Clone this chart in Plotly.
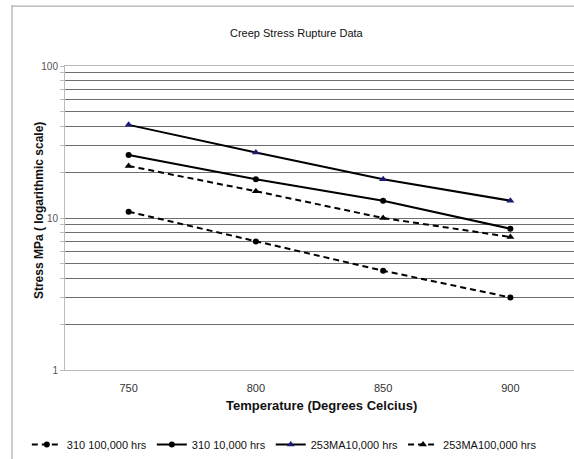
import plotly.graph_objects as go

temperatures = [750, 800, 850, 900]
s310_100k = [11, 7, 4.5, 3]
s310_10k = [26, 18, 13, 8.5]
s253_10k = [41, 27, 18, 13]
s253_100k = [22, 15, 10, 7.5]

y_tickvals = [1, 2, 3, 4, 5, 6, 7, 8, 9, 10, 20, 30, 40, 50, 60, 70, 80, 90, 100]
y_ticktext = ["1", "", "", "", "", "", "", "", "", "10", "", "", "", "", "", "", "", "", "100"]
x_ticks = ["750", "800", "850", "900"]

FONT = "Liberation Sans Narrow, Arial Narrow, Liberation Sans, Arial, sans-serif"
BOLD = "Liberation Sans, Arial, sans-serif"

fig = go.Figure()
fig.add_trace(go.Scatter(x=temperatures, y=s310_100k, name="310 100,000 hrs", mode="lines+markers",
                         line=dict(color="black", width=2, dash="6px,4px"),
                         marker=dict(symbol="circle", size=6, color="black")))
fig.add_trace(go.Scatter(x=temperatures, y=s310_10k, name="310 10,000 hrs", mode="lines+markers",
                         line=dict(color="black", width=2),
                         marker=dict(symbol="circle", size=6, color="black")))
fig.add_trace(go.Scatter(x=temperatures, y=s253_10k, name="253MA10,000 hrs", mode="lines+markers",
                         line=dict(color="black", width=2),
                         marker=dict(symbol="triangle-up", size=7, color="#1c1c78")))
fig.add_trace(go.Scatter(x=temperatures, y=s253_100k, name="253MA100,000 hrs", mode="lines+markers",
                         line=dict(color="black", width=2, dash="6px,4px"),
                         marker=dict(symbol="triangle-up", size=7, color="black")))

fig.update_layout(
    width=574, height=459,
    margin=dict(l=65, r=0, t=66, b=89),
    paper_bgcolor="white", plot_bgcolor="white",
    font=dict(family=FONT, size=11, color="#222"),
    showlegend=True,
    legend=dict(orientation="h", x=-0.075, xanchor="left", y=-0.247, yanchor="middle",
                font=dict(family=FONT, size=11, color="#111"),
                tracegroupgap=0, bgcolor="rgba(0,0,0,0)"),
    xaxis=dict(range=[725, 925], tickvals=temperatures, ticktext=x_ticks,
               showgrid=False, zeroline=False, showline=True, linecolor="#bbbbbb", mirror=True,
               ticks="", tickfont=dict(size=11, color="#333"), ticklabelstandoff=8),
    yaxis=dict(type="log", range=[0, 2], tickvals=y_tickvals, ticktext=y_ticktext,
               showgrid=True, gridcolor="#6e6e6e", gridwidth=1, zeroline=False,
               showline=True, linecolor="#bbbbbb", mirror=True, ticks="outside", ticklen=4,
               tickcolor="#bbbbbb", tickfont=dict(size=10, color="#555")),
    shapes=[
        dict(type="line", xref="paper", yref="paper", x0=-0.1041, x1=-0.1041, y0=-0.35, y1=1.2007,
             line=dict(color="#9a9a9a", width=1), layer="below"),
        dict(type="line", xref="paper", yref="paper", x0=-0.1041, x1=1.05, y0=1.197, y1=1.197,
             line=dict(color="#9a9a9a", width=1), layer="below"),
    ],
    annotations=[
        dict(text="Creep Stress Rupture Data", xref="paper", yref="paper", x=0.456, y=1.135,
             showarrow=False, font=dict(family=FONT, size=11, color="#111")),
        dict(text="<b>Temperature (Degrees Celcius)</b>", xref="paper", yref="paper", x=0.503, y=-0.148,
             showarrow=False, font=dict(family=FONT, size=13, color="#111")),
        dict(text="<b>Stress MPa ( logarithmic scale)</b>", xref="paper", yref="paper", x=-0.0688, y=0.526,
             textangle=-90, showarrow=False, font=dict(family=BOLD, size=12, color="#111")),
    ],
)

fig.write_html("out.html", config={"displayModeBar": False},
               post_script="document.body.style.margin='0';document.body.style.overflow='hidden';")
